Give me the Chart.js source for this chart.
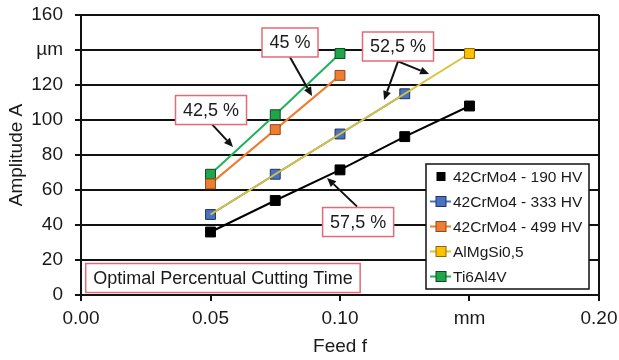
<!DOCTYPE html>
<html>
<head>
<meta charset="utf-8">
<script src="https://cdn.jsdelivr.net/npm/chart.js@4.4.0/dist/chart.umd.min.js"></script>
<style>
  html, body { margin: 0; padding: 0; background: #fff; }
</style>
</head>
<body>
<canvas id="myChart" width="619" height="360"></canvas>
<script>
const FONT = 'Arial, "Liberation Sans", sans-serif';

// values
const feed = [0.05, 0.075, 0.1, 0.125, 0.15];
const cr190 = [36, 54, 71.5, 90.5, 108];
const cr333 = [46, 69, 92, 115];
const cr499 = [63.5, 94.5, 125.5];
const alFeed = [0.05, 0.15];
const almgsi = [46, 138];
const ti6al4v = [69, 103, 138];

const seriesNames = ['42CrMo4 - 190 HV', '42CrMo4 - 333 HV', '42CrMo4 - 499 HV', 'AlMgSi0,5', 'Ti6Al4V'];
const xTickLabels = ['0.00', '0.05', '0.10', 'mm', '0.20'];
const yTickLabels = ['0', '20', '40', '60', '80', '100', '120', 'µm', '160'];

// percentual cutting time notes, placed in data units
const notes = [
  { text: '42,5 %', at: [0.0502, 105.7], arrows: [[[0.0506, 97.5], [0.0587, 84.6]]] },
  { text: '45 %', at: [0.0807, 144.3], arrows: [[[0.0807, 135.8], [0.0892, 113.7]]] },
  { text: '52,5 %', at: [0.1224, 142], arrows: [[[0.1224, 133.5], [0.117, 111.4]], [[0.1224, 133.5], [0.1344, 126.3]]] },
  { text: '57,5 %', at: [0.107, 41.7], arrows: [[[0.1066, 50.5], [0.095, 66.9]]] },
  { text: 'Optimal Percentual Cutting Time', at: [0.0548, 9.7], arrows: [] }
];

const pts = (xs, ys) => ys.map((y, i) => ({ x: xs[i], y }));

const ctx = document.getElementById('myChart').getContext('2d');

const drawArrow = (c, x1, y1, x2, y2) => {
  const a = Math.atan2(y2 - y1, x2 - x1);
  const len = 9, half = 4;
  const bx = x2 - len * Math.cos(a), by = y2 - len * Math.sin(a);
  c.beginPath();
  c.moveTo(x1, y1);
  c.lineTo(bx, by);
  c.stroke();
  c.beginPath();
  c.moveTo(x2, y2);
  c.lineTo(bx + half * Math.sin(a), by - half * Math.cos(a));
  c.lineTo(bx - half * Math.sin(a), by + half * Math.cos(a));
  c.closePath();
  c.fill();
};

const notesPlugin = {
  id: 'notes',
  afterDatasetsDraw(chart) {
    const c = chart.ctx;
    const sx = chart.scales.x, sy = chart.scales.y;
    c.save();
    c.font = '18px ' + FONT;
    for (const n of notes) {
      c.strokeStyle = '#111';
      c.fillStyle = '#111';
      c.lineWidth = 2;
      for (const [p1, p2] of n.arrows) {
        drawArrow(c, sx.getPixelForValue(p1[0]), sy.getPixelForValue(p1[1]),
          sx.getPixelForValue(p2[0]), sy.getPixelForValue(p2[1]));
      }
      const cx = sx.getPixelForValue(n.at[0]);
      const cy = sy.getPixelForValue(n.at[1]);
      const w = c.measureText(n.text).width + 15;
      const h = 29;
      c.fillStyle = '#fff';
      c.fillRect(cx - w / 2, cy - h / 2, w, h);
      c.strokeStyle = '#e46a78';
      c.lineWidth = 1.5;
      c.strokeRect(cx - w / 2, cy - h / 2, w, h);
      c.fillStyle = '#1a1a1a';
      c.textAlign = 'center';
      c.textBaseline = 'middle';
      c.fillText(n.text, cx, cy + 1);
    }
    c.restore();
  }
};

const legendPlugin = {
  id: 'boxLegend',
  afterDraw(chart) {
    const c = chart.ctx;
    const area = chart.chartArea;
    const w = 163, h = 125;
    const x0 = area.right - 173, y0 = area.bottom - 131;
    c.save();
    c.fillStyle = '#fff';
    c.fillRect(x0, y0, w, h);
    c.strokeStyle = '#111';
    c.lineWidth = 1.5;
    c.strokeRect(x0, y0, w, h);
    c.font = '15.5px ' + FONT;
    c.textBaseline = 'middle';
    chart.data.datasets.forEach((ds, i) => {
      const cy = y0 + 12.5 + i * 25;
      if (ds.legendLine !== false) {
        c.strokeStyle = ds.borderColor;
        c.lineWidth = 2;
        c.beginPath();
        c.moveTo(x0 + 4, cy);
        c.lineTo(x0 + 25, cy);
        c.stroke();
      }
      const s = ds.legendLine === false ? 8 : 10;
      c.fillStyle = ds.pointBackgroundColor;
      c.fillRect(x0 + 15 - s / 2, cy - s / 2, s, s);
      c.strokeStyle = ds.pointBorderColor;
      c.lineWidth = 1;
      c.strokeRect(x0 + 15 - s / 2, cy - s / 2, s, s);
      c.fillStyle = '#1a1a1a';
      c.fillText(ds.label, x0 + 27, cy + 1);
    });
    c.restore();
  }
};

const common = { showLine: true, borderWidth: 2, pointStyle: 'rect', pointRadius: 7, pointHoverRadius: 7, pointBorderWidth: 1 };

const dataChart = {
  datasets: [
    { ...common, label: seriesNames[0], data: pts(feed, cr190), order: 2,
      borderColor: '#000', pointBackgroundColor: '#000', pointBorderColor: '#000', legendLine: false },
    { ...common, label: seriesNames[1], data: pts(feed, cr333), order: 1,
      borderColor: '#4472c4', pointBackgroundColor: '#4a72c2', pointBorderColor: '#23345e' },
    { ...common, label: seriesNames[2], data: pts(feed, cr499), order: 3,
      borderColor: '#f07c30', pointBackgroundColor: '#ee7d31', pointBorderColor: '#8a4a1c' },
    { ...common, label: seriesNames[3], data: pts(alFeed, almgsi), order: 0, pointRadius: [0, 7],
      borderColor: '#d8c23a', pointBackgroundColor: '#ffc000', pointBorderColor: '#8a6a10' },
    { ...common, label: seriesNames[4], data: pts(feed, ti6al4v), order: 4,
      borderColor: '#1fb25a', pointBackgroundColor: '#1fa64a', pointBorderColor: '#0d4a22' }
  ]
};

const config = {
  type: 'scatter',
  data: dataChart,
  options: {
    responsive: false,
    animation: false,
    layout: { padding: { top: 15, right: 20, left: 0, bottom: 0 } },
    plugins: { legend: { display: false }, tooltip: { enabled: false } },
    scales: {
      x: {
        type: 'linear',
        min: 0,
        max: 0.2,
        afterFit: (s) => { s.height = 65; s.paddingLeft = 0; s.paddingRight = 0; },
        ticks: {
          stepSize: 0.05,
          padding: 6,
          color: '#1a1a1a',
          font: { family: FONT, size: 19 },
          callback: (v, i) => xTickLabels[i]
        },
        grid: {
          color: (c) => (c.index === 0 || c.index === xTickLabels.length - 1 ? '#111' : 'rgba(0,0,0,0)'),
          tickColor: '#111',
          lineWidth: 2,
          tickLength: 6
        },
        border: { color: '#111', width: 2 },
        title: { display: true, text: 'Feed f', color: '#1a1a1a', font: { family: FONT, size: 19 }, padding: { top: 0, bottom: 2 } }
      },
      y: {
        min: 0,
        max: 160,
        afterFit: (s) => { s.width = 81; s.paddingTop = 0; s.paddingBottom = 0; },
        ticks: {
          stepSize: 20,
          padding: 12,
          color: '#1a1a1a',
          font: { family: FONT, size: 19 },
          callback: (v, i) => yTickLabels[i]
        },
        grid: { color: '#111', lineWidth: 2, tickLength: 6 },
        border: { color: '#111', width: 2 },
        title: { display: true, text: 'Amplitude A', color: '#1a1a1a', font: { family: FONT, size: 19 }, padding: { top: 5, bottom: 0 } }
      }
    }
  },
  plugins: [notesPlugin, legendPlugin]
};

const myChart = new Chart(ctx, config);
</script>
</body>
</html>
